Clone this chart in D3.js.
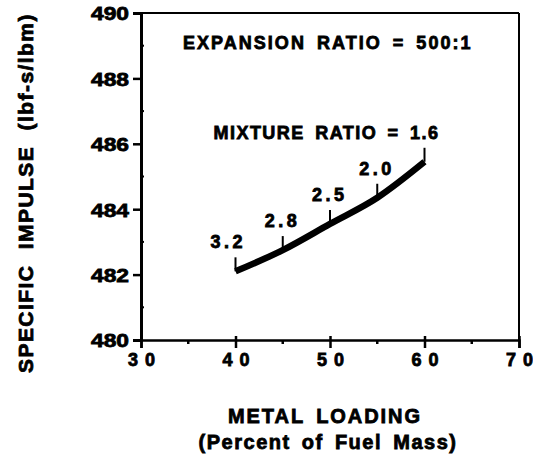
<!DOCTYPE html>
<html>
<head>
<meta charset="utf-8">
<script src="https://cdn.jsdelivr.net/npm/d3@7"></script>
<style>
  body { margin: 0; background: #fff; }
  text { font-family: "Liberation Sans", Arial, Helvetica, sans-serif; font-weight: bold; fill: #000;
         stroke: #000; stroke-width: 0.8px; }
</style>
</head>
<body>
<svg id="chart" width="533" height="457"></svg>
<script>
// data
var metalLoading = [40, 45, 50, 55, 60];
var specificImpulse = [482.1, 482.75, 483.55, 484.35, 485.45];
var mixtureRatio = ["3.2", "2.8", "2.5", "2.0", "1.6"];
var xTicks = [30, 40, 50, 60, 70];
var yTicks = [480, 482, 484, 486, 488, 490];
var xMinor = [35, 45, 55, 65];
var yMinor = [481, 483, 485, 487, 489];

const svg = d3.select("#chart");
const plotLeft = 141, plotRight = 519, plotTop = 13, plotBottom = 340;

const x = d3.scaleLinear().domain([30, 70]).range([plotLeft, plotRight]);
const y = d3.scaleLinear().domain([480, 490]).range([plotBottom, plotTop]);

// frame top + right
svg.append("line").attr("x1", plotLeft).attr("x2", plotRight).attr("y1", plotTop).attr("y2", plotTop)
    .attr("stroke", "#000").attr("stroke-width", 2);
svg.append("line").attr("x1", plotRight).attr("x2", plotRight).attr("y1", plotTop).attr("y2", plotBottom)
    .attr("stroke", "#000").attr("stroke-width", 2);

// y axis
const yAxis = svg.append("g")
    .attr("transform", "translate(" + plotLeft + ",0)")
    .call(d3.axisLeft(y).tickValues(yTicks).tickSize(8).tickFormat(d3.format("d")));
yAxis.select(".domain").attr("stroke-width", 3);
yAxis.selectAll(".tick line").attr("stroke-width", 2.5);
yAxis.selectAll(".tick text")
    .attr("font-size", 19).attr("x", -12).attr("dy", "0.36em")
    .attr("textLength", 38).attr("lengthAdjust", "spacingAndGlyphs");
svg.append("g").selectAll("line").data(yMinor).enter().append("line")
    .attr("x1", plotLeft).attr("x2", plotLeft + 3)
    .attr("y1", d => y(d)).attr("y2", d => y(d))
    .attr("stroke", "#000").attr("stroke-width", 2);

// x axis
const xAxis = svg.append("g")
    .attr("transform", "translate(0," + plotBottom + ")")
    .call(d3.axisBottom(x).tickValues(xTicks).tickSize(8).tickFormat(d3.format("d")));
xAxis.select(".domain").attr("stroke-width", 2.5);
xAxis.selectAll(".tick line").attr("stroke-width", 2.5).attr("y1", -4);
xAxis.selectAll(".tick text")
    .attr("font-size", 18).attr("y", 13).attr("dy", "0.71em")
    .attr("textLength", 27).attr("lengthAdjust", "spacing");
svg.append("g").selectAll("line").data(xMinor).enter().append("line")
    .attr("x1", d => x(d)).attr("x2", d => x(d))
    .attr("y1", plotBottom).attr("y2", plotBottom + 4)
    .attr("stroke", "#000").attr("stroke-width", 2.5);
svg.selectAll(".domain").attr("stroke", "#000");

// curve
const pts = metalLoading.map((m, i) => [m, specificImpulse[i]]);
const line = d3.line().x(d => x(d[0])).y(d => y(d[1])).curve(d3.curveMonotoneX);
svg.append("path").attr("d", line(pts))
    .attr("fill", "none").attr("stroke", "#000").attr("stroke-width", 6.5)
    .attr("stroke-linecap", "butt");

// mixture ratio ticks + labels
const tickLen = 14;
svg.append("g").selectAll("line").data(pts).enter().append("line")
    .attr("x1", d => x(d[0])).attr("x2", d => x(d[0]))
    .attr("y1", d => y(d[1])).attr("y2", d => y(d[1]) - tickLen)
    .attr("stroke", "#000").attr("stroke-width", 2);

svg.append("g").selectAll("text").data(pts.slice(0, -1)).enter().append("text")
    .attr("x", (d, i) => x(d[0]) - (i === 0 ? 9 : 2))
    .attr("y", d => y(d[1]) - tickLen - 9)
    .attr("text-anchor", "middle").attr("font-size", 18)
    .attr("textLength", 32).attr("lengthAdjust", "spacing")
    .text((d, i) => mixtureRatio[i]);

// helper for the wide, spaced lettering of the original
function label(sel, size, ls, ws, len) {
    return sel.attr("font-size", size)
        .style("letter-spacing", ls + "px").style("word-spacing", ws + "px")
        .attr("textLength", len).attr("lengthAdjust", "spacing");
}

const last = pts[pts.length - 1];
label(svg.append("text"), 18, 1.5, 4, 226)
    .attr("x", x(last[0]) + 15).attr("y", y(last[1]) - tickLen - 9)
    .attr("text-anchor", "end")
    .text("MIXTURE RATIO = " + mixtureRatio[mixtureRatio.length - 1]);

label(svg.append("text"), 18, 1.5, 4, 289)
    .attr("x", 183).attr("y", 49)
    .text("EXPANSION RATIO = 500:1");

// axis titles
label(svg.append("text"), 21, 1.5, 8, 360)
    .attr("transform", "translate(33,193) rotate(-90)")
    .attr("text-anchor", "middle")
    .text("SPECIFIC IMPULSE (lbf-s/lbm)");

label(svg.append("text"), 20, 2, 4, 194)
    .attr("x", 325).attr("y", 423).attr("text-anchor", "middle")
    .text("METAL LOADING");
label(svg.append("text"), 20, 1.5, 4, 259)
    .attr("x", 328).attr("y", 449).attr("text-anchor", "middle")
    .text("(Percent of Fuel Mass)");
</script>
</body>
</html>
